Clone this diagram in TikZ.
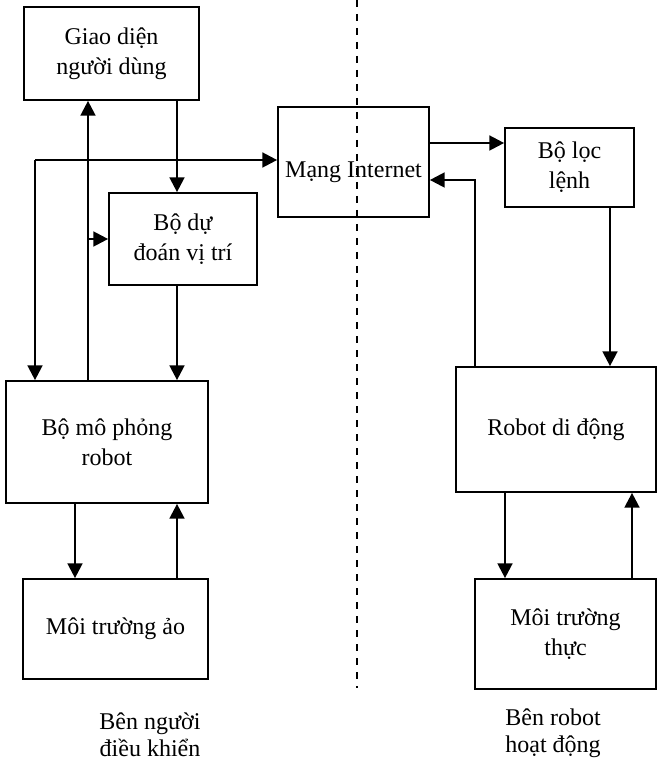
\documentclass[tikz,border=0pt]{standalone}
\usepackage{fontspec}
\setmainfont{Liberation Serif}
\usepackage{tikz}
\usetikzlibrary{arrows.meta, positioning, calc}

\begin{document}
\begin{tikzpicture}[
    x=0.75pt, y=-0.75pt,
    box/.style={rectangle, draw=black, line width=1.3pt, align=center,
                font=\fontsize{18pt}{22.5pt}\selectfont},
    arrow/.style={-{Triangle[length=11pt, width=11pt]}, line width=1.8pt},
    side/.style={align=center, font=\fontsize{18pt}{20pt}\selectfont},
    divider/.style={line width=1.5pt, dash pattern=on 5.5pt off 5pt}
]
\useasboundingbox (0,0) rectangle (657,762);

% Operator side
\node[box, minimum width=131.25pt, minimum height=69.75pt] (gui) at (111.5,53.5) {Giao diện\\người dùng};
\node[box, minimum width=111pt, minimum height=69pt] (pred) at (183,239) {Bộ dự\\đoán vị trí};
\node[box, minimum width=151.5pt, minimum height=91.5pt] (sim) at (107,442) {Bộ mô phỏng\\robot};
\node[box, minimum width=138.75pt, minimum height=75pt] (virt) at (115.5,629) {Môi trường ảo};

% Network
\node[box, minimum width=113.25pt, minimum height=82.5pt] (inet) at (353.5,162) {\raisebox{-6pt}[\height][0pt]{Mạng Internet}};

% Robot side
\node[box, minimum width=96.75pt, minimum height=59.25pt] (filt) at (569.5,167.5) {Bộ lọc\\lệnh};
\node[box, minimum width=150pt, minimum height=93.75pt] (robot) at (556,429.5) {Robot di động};
\node[box, minimum width=135.75pt, minimum height=82.5pt] (real) at (565.5,634) {Môi trường\\thực};

% Side labels
\node[side] (lblop) at (150,735) {Bên người\\điều khiển};
\node[side] (lblrb) at (553,733) {Bên robot\\hoạt động};

% Divider
\coordinate (dtop) at (357,0);
\coordinate (dbot) at (357,688);
\draw[divider] (dtop) -- (dbot);

% Tap points
\coordinate (xa) at (35,160);
\coordinate (xb) at (88,0);
\coordinate (xc) at (177,0);
\coordinate (xd) at (75,0);
\coordinate (xe) at (475,180);
\coordinate (xf) at (610,0);
\coordinate (xg) at (505,0);
\coordinate (xh) at (632,0);
\coordinate (yi) at (0,143);

% Operator side links
\draw[arrow] (sim.north -| xb) -- (gui.south -| xb);
\draw[arrow] (gui.south -| xc) -- (pred.north -| xc);
\draw[arrow] (pred.south -| xc) -- (sim.north -| xc);
\draw[arrow] (xb |- pred.west) -- (pred.west);
\draw[arrow] (xa) -- (inet.west |- xa);
\draw[arrow] (xa) -- (sim.north -| xa);
\draw[arrow] (sim.south -| xd) -- (virt.north -| xd);
\draw[arrow] (virt.north -| xc) -- (sim.south -| xc);

% Robot side links
\draw[arrow] (inet.east |- yi) -- (filt.west |- yi);
\draw[arrow] (filt.south -| xf) -- (robot.north -| xf);
\draw[arrow] (robot.north -| xe) -- (xe) -- (inet.east |- xe);
\draw[arrow] (robot.south -| xg) -- (real.north -| xg);
\draw[arrow] (real.north -| xh) -- (robot.south -| xh);

\end{tikzpicture}
\end{document}
